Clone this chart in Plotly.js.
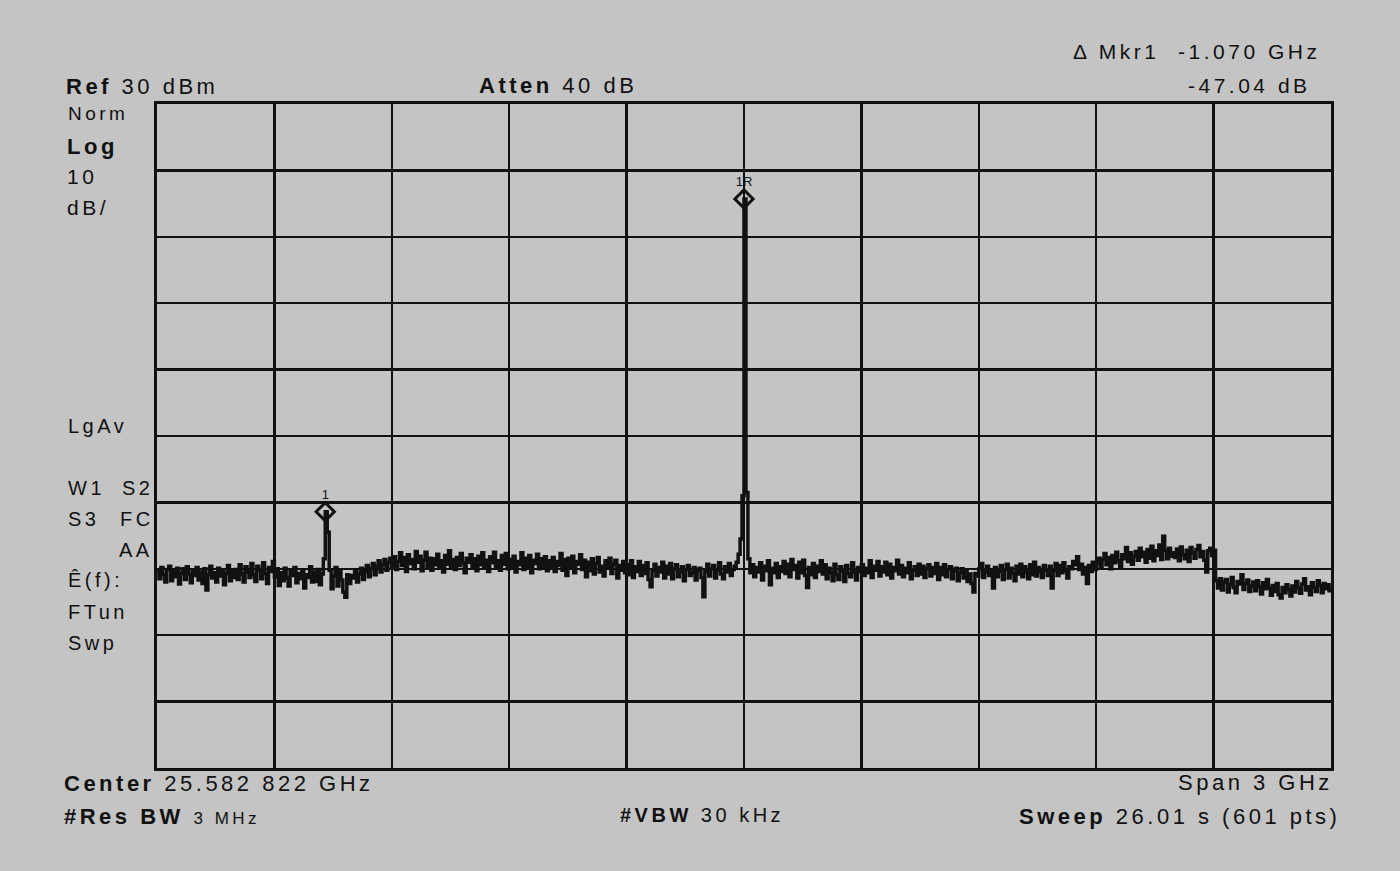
<!DOCTYPE html>
<html>
<head>
<meta charset="utf-8">
<script src="https://cdn.plot.ly/plotly-3.0.1.min.js"></script>
<style>
  html, body { margin: 0; padding: 0; background: #c4c4c4; }
  #chart { width: 1400px; height: 871px; }
  /* instrument screen print has wide letter spacing */
  .annotation-text { letter-spacing: 3.5px; }
</style>
</head>
<body>
<div id="chart"></div>
<script>
// Sweep settings (from the screen annotations)
const centerGHz = 25.582822;
const spanGHz = 3;
const refDbm = 30;
const dbPerDiv = 10;
const nPoints = 601;

// Trace amplitude, dBm, one value per sweep point (601 pts)
const traceDbm = [
  -40.2,-41.5,-39.8,-40.9,-42.0,-40.1,-39.6,-41.8,-40.4,-41.2,-39.9,-42.3,-40.7,-40.0,-41.6,-39.7,-40.8,-42.1,-40.3,-41.0,
  -39.8,-41.7,-40.5,-42.2,-40.0,-43.2,-40.9,-39.6,-41.4,-40.6,-42.0,-39.9,-41.1,-40.3,-42.4,-40.7,-39.5,-41.8,-40.2,-41.3,
  -40.1,-41.6,-39.4,-40.8,-42.0,-39.7,-40.5,-41.3,-39.2,-40.9,-41.9,-39.6,-40.3,-41.5,-39.1,-40.7,-42.2,-39.8,-40.4,-38.9,
  -41.2,-40.0,-42.5,-40.6,-41.8,-39.9,-41.4,-42.6,-40.3,-41.0,-39.8,-42.1,-40.7,-41.5,-40.2,-42.9,-40.9,-41.3,-39.7,-42.0,
  -40.5,-41.9,-40.1,-42.4,-40.8,-38.5,-31.4,-34.5,-40.2,-43.0,-41.1,-39.8,-42.6,-40.4,-41.7,-43.5,-44.3,-40.9,-42.2,-41.0,
  -41.4,-40.2,-42.0,-40.8,-39.9,-41.6,-40.4,-39.5,-41.2,-40.0,-39.2,-40.9,-39.6,-38.8,-40.5,-39.3,-38.6,-40.2,-39.0,-38.4,
  -39.7,-38.2,-40.1,-38.9,-37.6,-39.5,-38.3,-40.4,-37.9,-39.2,-38.6,-40.0,-37.4,-39.0,-38.1,-40.3,-38.7,-37.5,-39.6,-38.4,
  -40.2,-38.5,-39.4,-37.8,-39.9,-38.8,-40.5,-38.0,-39.3,-37.3,-39.7,-38.6,-40.1,-38.3,-39.5,-37.7,-39.1,-40.6,-38.4,-39.0,
  -37.9,-39.8,-38.5,-40.3,-38.1,-39.4,-37.6,-39.9,-38.7,-40.4,-38.2,-39.1,-37.5,-39.6,-38.8,-40.2,-38.0,-39.3,-37.7,-40.0,
  -38.6,-39.7,-38.1,-40.5,-38.9,-39.4,-37.6,-40.1,-38.4,-39.8,-38.0,-40.6,-38.7,-39.2,-37.8,-40.0,-38.5,-39.6,-38.2,-40.3,
  -38.8,-39.9,-38.3,-40.4,-38.9,-39.5,-37.7,-40.2,-38.6,-41.0,-38.4,-39.7,-38.1,-40.6,-38.9,-39.3,-37.9,-40.1,-38.7,-41.2,
  -39.0,-40.3,-38.5,-40.8,-39.2,-38.3,-40.5,-39.6,-41.1,-38.8,-39.9,-38.4,-40.7,-39.3,-38.7,-41.4,-39.5,-40.2,-38.9,-40.6,
  -39.4,-40.9,-38.8,-41.3,-39.7,-40.4,-38.9,-41.0,-39.5,-40.7,-39.1,-41.6,-42.7,-40.2,-39.3,-41.1,-39.8,-40.5,-39.0,-41.4,
  -39.6,-40.8,-39.2,-41.5,-40.0,-39.4,-41.2,-40.5,-39.7,-41.8,-40.1,-39.5,-41.0,-40.6,-39.8,-41.7,-40.3,-39.9,-41.3,-44.2,
  -40.4,-39.3,-41.1,-40.0,-39.5,-41.4,-40.2,-39.1,-40.8,-41.5,-39.7,-40.5,-39.2,-41.0,-40.1,-39.6,-39.0,-37.8,-35.5,-29.0,
  15.7,-28.5,-38.5,-40.6,-39.4,-41.2,-39.8,-40.5,-39.1,-41.7,-39.6,-40.3,-38.8,-42.4,-39.9,-40.6,-39.2,-41.3,-39.7,-40.4,
  -38.9,-40.7,-39.3,-41.2,-38.6,-40.1,-39.5,-41.4,-39.0,-40.6,-38.7,-41.0,-42.8,-39.8,-40.9,-39.2,-41.3,-39.6,-40.4,-38.8,
  -40.8,-39.4,-41.5,-39.9,-40.6,-41.8,-39.3,-40.9,-41.6,-39.7,-40.3,-41.9,-39.5,-40.7,-41.2,-39.1,-40.5,-41.7,-39.8,-40.4,
  -39.4,-41.0,-39.9,-40.6,-38.8,-41.3,-39.6,-40.2,-38.9,-41.1,-39.7,-40.5,-39.0,-40.9,-39.3,-41.4,-39.8,-40.3,-38.7,-40.8,
  -39.5,-41.2,-39.9,-40.6,-39.1,-41.5,-40.2,-39.7,-41.0,-39.3,-40.8,-39.6,-41.3,-40.0,-39.4,-41.1,-39.8,-40.7,-39.2,-41.6,
  -39.8,-40.9,-39.4,-41.2,-40.1,-39.7,-41.5,-40.3,-39.9,-41.8,-40.6,-40.0,-41.4,-40.4,-41.9,-40.8,-42.2,-43.5,-40.7,-41.1,
  -40.0,-39.2,-41.3,-40.5,-39.6,-41.0,-40.2,-42.9,-39.8,-41.2,-40.4,-39.5,-41.6,-40.1,-39.3,-41.4,-39.9,-40.7,-41.8,-39.6,
  -40.8,-39.3,-41.2,-39.7,-40.5,-41.5,-39.4,-40.9,-39.0,-41.1,-39.8,-40.4,-41.3,-39.5,-40.2,-41.0,-39.6,-42.9,-40.3,-39.2,
  -41.0,-39.5,-40.6,-39.1,-40.3,-41.4,-39.7,-40.0,-38.9,-39.4,-38.2,-40.1,-39.3,-40.8,-39.8,-42.2,-39.5,-40.4,-39.0,-40.1,
  -39.2,-38.4,-39.9,-38.6,-37.7,-39.4,-38.3,-40.0,-38.0,-39.1,-37.5,-38.8,-39.6,-37.9,-38.5,-36.8,-38.9,-37.6,-39.3,-38.1,
  -37.4,-38.7,-36.9,-38.2,-37.5,-39.0,-37.1,-38.4,-36.6,-38.8,-37.3,-38.0,-36.4,-38.6,-35.1,-37.2,-38.5,-36.9,-38.1,-37.6,
  -38.3,-37.0,-38.8,-36.7,-37.9,-38.5,-37.2,-38.9,-36.8,-37.6,-38.4,-37.1,-36.5,-38.2,-37.4,-38.7,-40.5,-37.3,-36.9,-38.0,
  -37.2,-41.8,-42.9,-41.5,-43.2,-42.0,-41.6,-43.5,-42.4,-41.3,-42.8,-43.6,-41.9,-42.3,-40.9,-43.1,-42.2,-41.7,-43.4,-42.6,
  -42.0,-43.3,-41.8,-42.7,-43.8,-42.1,-43.0,-41.6,-42.9,-44.0,-42.5,-43.4,-42.2,-43.9,-44.4,-42.8,-43.6,-42.4,-43.1,-44.1,
  -42.6,-43.5,-41.9,-42.9,-43.7,-42.3,-41.5,-43.2,-42.7,-43.9,-42.1,-42.8,-43.4,-41.8,-42.5,-43.6,-42.2,-43.0,-42.4,-43.3,
  -42.7
];

// Markers: sweep point index and label
const markerIdx = [86, 300];
const markerLabels = ['1', '1R'];

// Screen annotation texts
const headerTexts = ['<b>Ref</b> 30 dBm', '<b>Atten</b> 40 dB', 'Δ Mkr1  -1.070 GHz', '-47.04 dB'];
const sideTexts = ['Norm', '<b>Log</b>', '10', 'dB/', 'LgAv', 'W1', 'S2', 'S3', 'FC', 'AA', 'Ê(f):', 'FTun', 'Swp'];
const footerTexts = ['<b>Center</b> 25.582 822 GHz', '<b>#Res BW</b> <span style="font-size:17px">3 MHz</span>',
                     '<b>#VBW</b> 30 kHz', 'Span 3 GHz', '<b>Sweep</b> 26.01 s (601 pts)'];

const startGHz = centerGHz - spanGHz / 2;
const stopGHz = centerGHz + spanGHz / 2;
const freqs = traceDbm.map((_, i) => startGHz + i * spanGHz / (nPoints - 1));

// plot area in pixels
const L = 157, T = 104, W = 1174, H = 664;
const INK = '#111111';
const BG = '#c4c4c4';

// text placement: [left px, center px, size]
const headerPos = [[64, 86, 22], [477, 85, 22], [1071, 52, 21], [1186, 85, 21]];
const sidePos = [[66, 114, 19], [65, 146, 22], [65, 176, 21], [65, 208, 21], [66, 426, 20],
                 [66, 488, 20], [120, 488, 20], [66, 519, 20], [118, 519, 20], [117, 550, 20],
                 [66, 580, 20], [66, 612, 20], [66, 643, 20]];
const footerPos = [[62, 783, 22], [62, 816, 22], [618, 815, 20], [1176, 782, 22], [1017, 816, 22]];

function label(text, pos) {
    return {
        text: text,
        xref: 'paper', yref: 'paper',
        x: (pos[0] - L) / W,
        y: (T + H - pos[1]) / H,
        xanchor: 'left', yanchor: 'middle',
        showarrow: false,
        font: { size: pos[2], color: INK, family: 'Liberation Sans, Arial, sans-serif' }
    };
}

const annotations = [];
headerTexts.forEach((t, i) => annotations.push(label(t, headerPos[i])));
sideTexts.forEach((t, i) => annotations.push(label(t, sidePos[i])));
footerTexts.forEach((t, i) => annotations.push(label(t, footerPos[i])));

const traces = [
    {
        x: freqs,
        y: traceDbm,
        type: 'scatter',
        mode: 'lines',
        // display draws each bucket as vertical bars, step shape fills the band
        line: { color: INK, width: 3.5, shape: 'hv' },
        hoverinfo: 'x+y'
    },
    {
        x: markerIdx.map(i => freqs[i]),
        y: markerIdx.map(i => traceDbm[i]),
        type: 'scatter',
        mode: 'markers+text',
        text: markerLabels,
        textposition: 'top center',
        textfont: { size: 13, color: INK, family: 'Liberation Sans, Arial, sans-serif' },
        marker: { symbol: 'diamond-open', size: 14, color: INK, line: { width: 3, color: INK } }
    }
];

const layout = {
    width: 1400,
    height: 871,
    paper_bgcolor: BG,
    plot_bgcolor: BG,
    showlegend: false,
    margin: { l: L, r: 1400 - L - W, t: T, b: 871 - T - H },
    xaxis: {
        range: [startGHz, stopGHz],
        tickmode: 'linear',
        tick0: startGHz,
        dtick: spanGHz / 10,
        showticklabels: false,
        ticks: '',
        showgrid: true,
        gridcolor: INK,
        gridwidth: 2.5,
        zeroline: false,
        showline: true,
        mirror: true,
        linecolor: INK,
        linewidth: 3
    },
    yaxis: {
        range: [refDbm - 10 * dbPerDiv, refDbm],
        tickmode: 'linear',
        tick0: refDbm,
        dtick: dbPerDiv,
        showticklabels: false,
        ticks: '',
        showgrid: true,
        gridcolor: INK,
        gridwidth: 2.5,
        zeroline: false,
        showline: true,
        mirror: true,
        linecolor: INK,
        linewidth: 3
    },
    annotations: annotations
};

Plotly.newPlot('chart', traces, layout, { displayModeBar: false, staticPlot: true });
</script>
</body>
</html>
